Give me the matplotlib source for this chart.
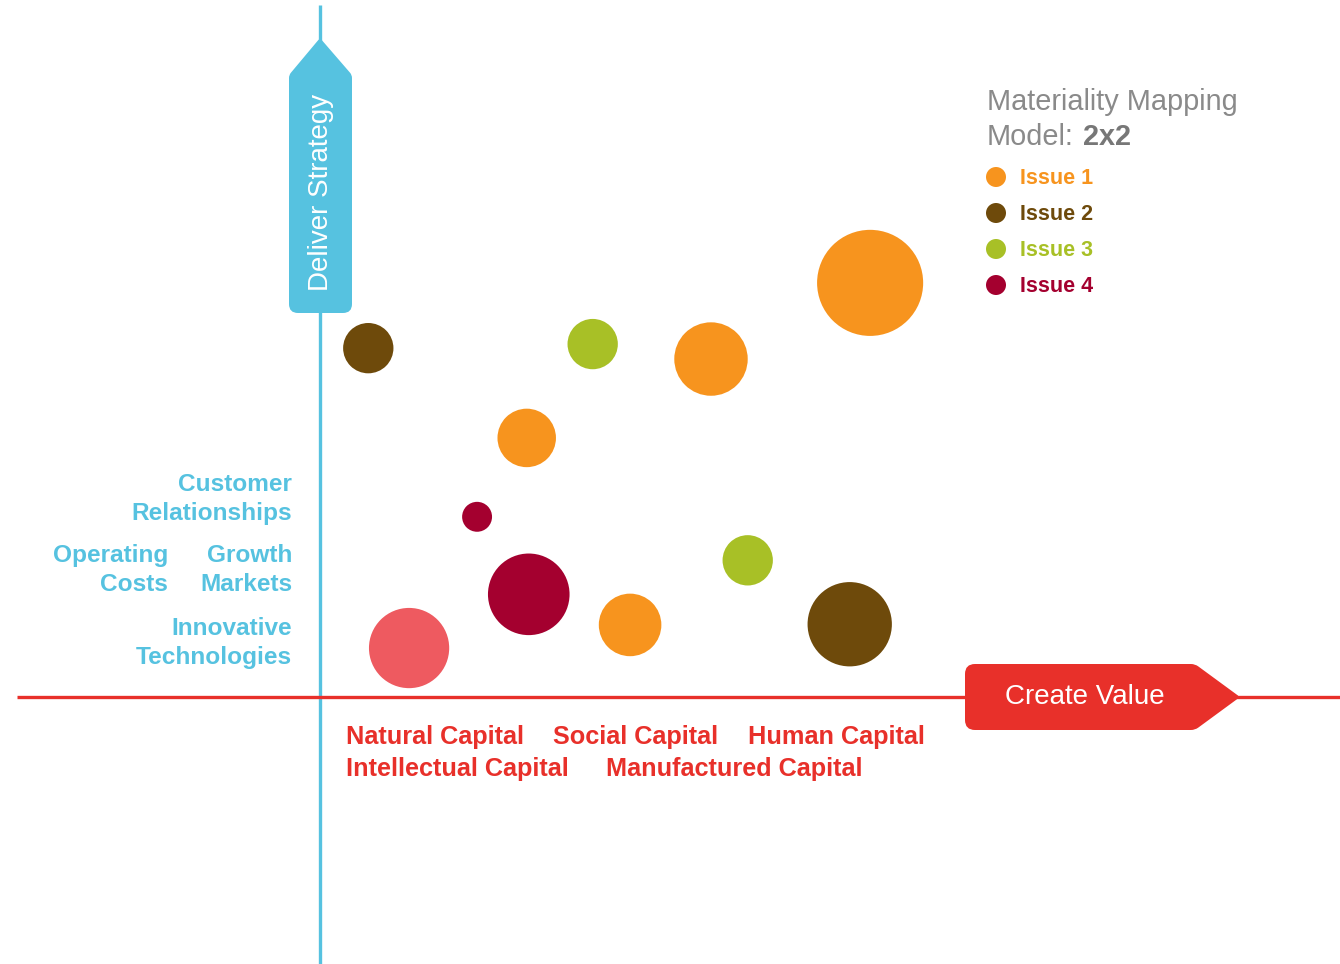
import matplotlib
matplotlib.use("Agg")
import matplotlib.pyplot as plt
from matplotlib.patches import Circle, PathPatch
from matplotlib.path import Path

# ---------------- data ----------------
series_names = ["Issue 1", "Issue 2", "Issue 3", "Issue 4", "Other"]
series_colors = ["#F7941E", "#6E4A0B", "#A8C026", "#A4002F", "#EE5A60"]

issue1_x = [5.75, 8.09, 3.04, 4.56]
issue1_y = [4.97, 6.09, 3.81, 1.06]
issue1_r = [0.54, 0.78, 0.43, 0.46]

issue2_x = [0.71, 7.79]
issue2_y = [5.13, 1.07]
issue2_r = [0.37, 0.62]

issue3_x = [4.01, 6.29]
issue3_y = [5.19, 2.01]
issue3_r = [0.37, 0.37]

issue4_x = [2.31, 3.07]
issue4_y = [2.65, 1.51]
issue4_r = [0.22, 0.60]

other_x = [1.31]
other_y = [0.72]
other_r = [0.59]

strategy_labels = ["Customer\nRelationships", "Operating\nCosts", "Growth\nMarkets",
                   "Innovative\nTechnologies"]
value_labels_row1 = ["Natural Capital", "Social Capital", "Human Capital"]
value_labels_row2 = ["Intellectual Capital", "Manufactured Capital"]

y_axis_title = "Deliver Strategy"
x_axis_title = "Create Value"
legend_title = "Materiality Mapping"

# ---------------- layout ----------------
W, H = 1340, 964
OX, OY = 320, 697          # origin in pixels
S = 68.0                   # pixels per data unit
BLUE = "#56C2E0"
RED = "#E8302A"
FONT = "Liberation Sans"

fig = plt.figure(figsize=(W / 100, H / 100), dpi=100)
ax = fig.add_axes([0, 0, 1, 1])
ax.set_xlim(-OX / S, (W - OX) / S)
ax.set_ylim(-(H - OY) / S, OY / S)
ax.axis("off")


def P(xp, yp):
    return ((xp - OX) / S, (OY - yp) / S)


# axes lines
ax.plot([0, 0], [P(0, 5)[1], P(0, H)[1]], color=BLUE, lw=2.4, zorder=1, solid_capstyle="butt")
ax.plot([P(17, 0)[0], P(W, 0)[0]], [0, 0], color=RED, lw=2.4, zorder=1, solid_capstyle="butt")


def rounded_poly(pts_px, radii):
    """polygon with rounded corners (radius per vertex, pixels)."""
    import numpy as np
    n = len(pts_px)
    verts, codes = [], []
    for i in range(n):
        p = np.array(pts_px[i], float)
        r = radii[i]
        prev = np.array(pts_px[i - 1], float)
        nxt = np.array(pts_px[(i + 1) % n], float)
        a = p + (prev - p) / np.linalg.norm(prev - p) * r
        b = p + (nxt - p) / np.linalg.norm(nxt - p) * r
        verts.append(P(*a)); codes.append(Path.LINETO if verts[:-1] else Path.MOVETO)
        verts.append(P(*p)); codes.append(Path.CURVE3)
        verts.append(P(*b)); codes.append(Path.CURVE3)
    verts.append(verts[0]); codes.append(Path.CLOSEPOLY)
    return Path(verts, codes)


# blue badge (vertical axis)
blue_path = rounded_poly([(289, 75), (320, 38), (352, 75), (352, 313), (289, 313)],
                         [3, 3, 3, 9, 9])
ax.add_patch(PathPatch(blue_path, facecolor=BLUE, edgecolor="none", zorder=2))
ax.text(*P(321, 192), y_axis_title, rotation=90, ha="center", va="center",
        color="white", fontsize=20, family=FONT, zorder=3)

# red badge (horizontal axis)
red_path = rounded_poly([(965, 664), (1195, 664), (1240, 697), (1195, 730), (965, 730)],
                        [10, 4, 3, 4, 10])
ax.add_patch(PathPatch(red_path, facecolor=RED, edgecolor="none", zorder=2))
ax.text(*P(1085, 697), x_axis_title, ha="center", va="center",
        color="white", fontsize=20, family=FONT, zorder=3)

# bubbles
all_series = [
    (issue1_x, issue1_y, issue1_r),
    (issue2_x, issue2_y, issue2_r),
    (issue3_x, issue3_y, issue3_r),
    (issue4_x, issue4_y, issue4_r),
    (other_x, other_y, other_r),
]
for (xs, ys, rs), col in zip(all_series, series_colors):
    for x, y, r in zip(xs, ys, rs):
        ax.add_patch(Circle((x, y), r, facecolor=col, edgecolor="none", zorder=4))

# strategy labels (blue, left of vertical axis)
lbl_kw = dict(color=BLUE, fontsize=17.6, fontweight="bold", family=FONT,
              ha="right", va="center", linespacing=1.33)
ax.text(*P(292, 499), strategy_labels[0], **lbl_kw)
ax.text(*P(168, 570), strategy_labels[1], **lbl_kw)
ax.text(*P(292, 570), strategy_labels[2], **lbl_kw)
ax.text(*P(292, 643), strategy_labels[3], **lbl_kw)

# value labels (red, below horizontal axis)
vkw = dict(color=RED, fontsize=18.2, fontweight="bold", family=FONT, ha="left", va="center")
for lab, xp in zip(value_labels_row1, [346, 553, 748]):
    ax.text(*P(xp, 737), lab, **vkw)
for lab, xp in zip(value_labels_row2, [346, 606]):
    ax.text(*P(xp, 769), lab, **vkw)

# legend
ax.text(*P(987, 102), legend_title, color="#8A8A8A", fontsize=20.8, family=FONT,
        ha="left", va="center")
ax.text(*P(987, 137), "Model:", color="#8A8A8A", fontsize=20.8, family=FONT,
        ha="left", va="center")
ax.text(*P(1083, 137), "2x2", color="#777777", fontsize=20.8, fontweight="bold",
        family=FONT, ha="left", va="center")
for i, (name, col) in enumerate(zip(series_names[:4], series_colors[:4])):
    yp = 177 + i * 36
    ax.add_patch(Circle(P(996, yp), 10 / S, facecolor=col, edgecolor="none", zorder=4))
    ax.text(*P(1020, yp + 1), name, color=col, fontsize=15.5, fontweight="bold",
            family=FONT, ha="left", va="center")

fig.savefig("out.png", dpi=100, facecolor="white")
